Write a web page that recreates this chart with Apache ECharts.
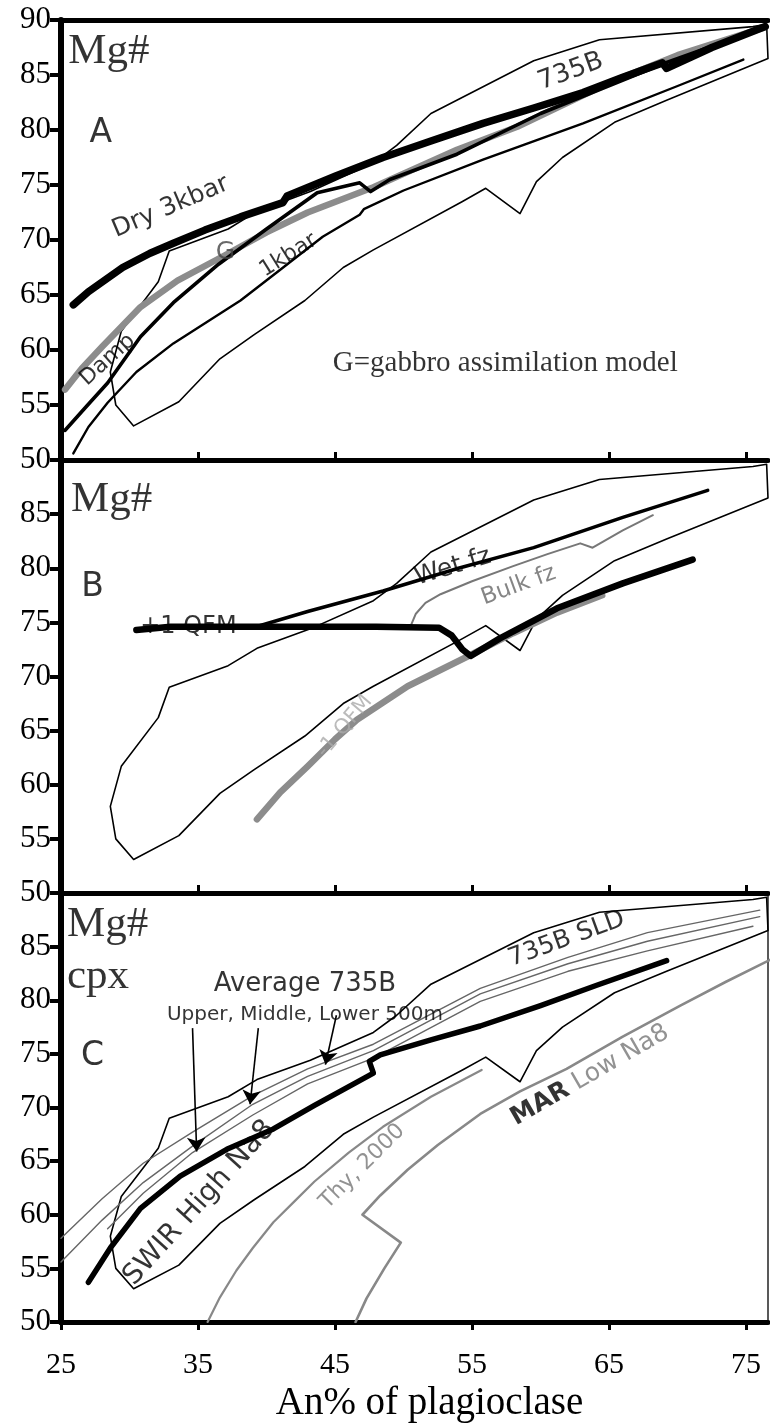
<!DOCTYPE html>
<html><head><meta charset="utf-8">
<script src="https://cdn.jsdelivr.net/npm/echarts@6/dist/echarts.min.js"></script>
<style>html,body{margin:0;padding:0;background:#fff}#c{width:770px;height:1424px}</style>
</head><body><div id="c"></div>
<script>
// ---- tick values ----
const xTickValues = [25, 35, 45, 55, 65, 75];
const yTickValuesA = [50, 55, 60, 65, 70, 75, 80, 85, 90];
const yTickValuesBC = [50, 55, 60, 65, 70, 75, 80, 85];

// ---- 735B field outline (same in all panels), [An, Mg#] ----
const field735B = [[30.3,53.1],[29.0,55.0],[28.6,58.0],[29.4,61.7],[32.1,66.2],[32.9,69.0],[37.2,71.0],[39.3,72.6],[43.2,74.4],[47.8,77.0],[49.5,78.6],[52.0,81.5],[59.5,86.3],[64.3,88.2],[75.5,89.4],[76.5,89.6],[76.6,86.5],[69.2,82.7],[65.4,80.7],[61.6,77.5],[59.7,75.3],[58.5,72.4],[56.0,74.7],[54.3,73.5],[47.8,69.1],[45.6,67.5],[42.8,64.5],[39.1,61.4],[36.6,59.2],[33.6,55.3],[30.3,53.1]];

// ---- Panel A ----
const dry3kbar = [[25.9,64.1],[27.0,65.3],[29.5,67.5],[31.5,68.8],[33.2,69.7],[35.5,70.9],[38.1,72.1],[41.2,73.4],[41.5,74.0],[45,75.8],[48.5,77.5],[52,79.0],[55.8,80.6],[59.5,82.0],[63.1,83.4],[66,84.8],[68.9,86.1],[69.2,85.6],[72.5,87.5],[76.4,89.4]];
const gAssim = [[25.3,56.4],[26.5,58.3],[28.0,60.3],[30.8,63.9],[33.5,66.3],[36.8,68.5],[40.0,70.7],[43.0,72.5],[47.8,74.8],[53.9,78.2],[58.3,80.3],[65.0,84.3],[70,86.8],[76.3,89.3]];
const damp = [[25.3,52.7],[26.8,54.8],[28.4,57.0],[30.8,61.2],[33.2,64.3],[36.5,67.8],[40.0,71.0],[43.7,74.3],[46.8,75.2],[47.6,74.4],[49.0,75.5],[53.9,77.8],[60.0,81.5],[68.9,86.0],[76.3,89.3]];
const kbar1 = [[25.9,50.6],[27.0,53.0],[28.4,55.2],[30.5,58.0],[33.2,60.6],[38.1,64.5],[41.0,67.3],[44.1,70.3],[46.8,72.3],[47.1,72.8],[50.0,74.5],[55.8,77.3],[63.1,80.6],[70.0,84.0],[74.8,86.4]];

// ---- Panel B ----
const wetFz = [[39.0,74.5],[43.0,76.0],[48.5,77.9],[54.0,80.0],[59.5,81.9],[60.2,82.2],[66.0,84.7],[72.2,87.2]];
const bulkFz = [[50.5,74.6],[50.9,75.8],[51.6,76.8],[52.7,77.6],[55.0,78.8],[58.0,80.2],[60.5,81.3],[62.9,82.3],[63.8,81.9],[66.0,83.5],[68.2,84.9]];
const qfmPlus1 = [[30.5,74.3],[33.0,74.6],[40.0,74.6],[48.0,74.6],[52.6,74.5],[53.5,73.8],[54.3,72.5],[54.9,71.9],[57.0,73.5],[61.2,76.3],[66.0,78.6],[71.1,80.8]];
const qfmMinus1 = [[39.3,56.8],[41.0,59.3],[43.0,61.7],[45.0,64.2],[46.6,66.0],[50.3,69.1],[54.6,71.8],[58.0,74.0],[61.2,75.9],[64.5,77.5]];

// ---- Panel C ----
const swirHighNa8 = [[27.0,53.7],[28.6,56.9],[30.8,60.6],[33.7,63.6],[37.1,66.1],[40.5,68.0],[43.5,70.2],[46.8,72.5],[47.8,73.2],[47.5,74.3],[48.3,74.9],[52.0,76.3],[55.6,77.6],[60.0,79.5],[64.1,81.4],[69.2,83.7]];
const avgUpper = [[25.0,57.8],[28.0,61.5],[31.0,64.8],[34.6,67.7],[39.0,71.1],[43.0,73.6],[47.8,75.9],[55.6,81.1],[62.0,84.0],[67.8,86.3],[76.0,88.4]];
const avgMiddle = [[25.0,55.6],[28.0,59.5],[31.0,63.0],[34.6,66.4],[39.0,70.3],[43.0,72.9],[47.8,75.3],[55.6,80.6],[62.0,83.4],[67.8,85.5],[76.0,87.8]];
const avgLower = [[28.4,58.7],[31.0,62.0],[34.6,65.8],[39.0,69.3],[43.0,72.2],[47.8,74.6],[55.6,79.9],[62.0,82.7],[67.8,84.6],[75.5,86.9]];
const thy2000 = [[35.7,50.0],[36.6,52.3],[37.8,54.8],[39.0,56.9],[40.5,59.3],[42.0,61.2],[43.5,63.1],[46.0,65.8],[48.5,68.2],[52.0,71.0],[55.7,73.5]];
const marLowNa8 = [[46.5,50.0],[47.3,52.2],[48.6,55.0],[49.8,57.4],[47.0,60.0],[48.3,61.8],[50.3,64.2],[52.5,66.5],[55.6,69.4],[58.5,71.5],[61.9,73.6],[66.0,76.6],[70.2,79.5],[73.5,81.7],[76.8,83.8]];
const arrowsC = [[[34.6,77.4],[34.9,65.9]], [[39.4,77.4],[38.8,70.3]], [[45.1,78.6],[44.3,74.0]]];

const SERIF = "'Liberation Serif','Times New Roman',serif";
const SANS = "'DejaVu Sans',Verdana,sans-serif";

function line(g, data, color, width, z, extra) {
  return Object.assign({
    type: 'line', xAxisIndex: g, yAxisIndex: g, data: data, showSymbol: false, symbol: 'none',
    silent: true, animation: false, z: z || 2,
    lineStyle: {color: color, width: width, cap: 'round', join: 'round'}
  }, extra || {});
}
function note(g, x, y, text, o) {
  o = o || {};
  return {
    type: 'scatter', xAxisIndex: g, yAxisIndex: g, symbolSize: 1, silent: true, animation: false, z: 20,
    itemStyle: {color: 'rgba(0,0,0,0)'},
    data: [[x, y]],
    label: {
      show: true, position: o.position || 'inside', distance: 0, formatter: text,
      rotate: o.rotate || 0, fontSize: o.size || 22, fontFamily: o.font || SANS,
      color: o.color || '#000', fontWeight: o.weight || 'normal', rich: o.rich
    }
  };
}

const grids = [
  {left: 61, right: 2, top: 20, height: 440},
  {left: 61, right: 2, top: 460, height: 433},
  {left: 61, right: 2, top: 893, height: 434}
];

const xAxes = [0, 1, 2].map(g => ({
  type: 'value', gridIndex: g, min: 25, max: 76.6, interval: 10,
  axisLine: {show: true, onZero: false, lineStyle: {color: '#000', width: 5}},
  axisTick: {show: true, inside: g < 2, length: 8, customValues: xTickValues, lineStyle: {color: '#000', width: 3}},
  axisLabel: {show: g === 2, customValues: xTickValues, margin: 28, fontSize: 30, fontFamily: SERIF, color: '#000'},
  splitLine: {show: false},
  name: g === 2 ? 'An% of plagioclase' : '',
  nameLocation: 'middle', nameGap: 62,
  nameTextStyle: {fontSize: 39, fontFamily: SERIF, color: '#000', padding: [0, 0, 0, 30]}
}));
// top border of panel A
xAxes.push({type: 'value', gridIndex: 0, position: 'top', min: 25, max: 76.6,
  axisLine: {show: true, lineStyle: {color: '#000', width: 5}}, axisTick: {show: false}, axisLabel: {show: false}, splitLine: {show: false}});

const yAxes = [0, 1, 2].map(g => ({
  type: 'value', gridIndex: g, min: 50, max: 90, interval: 5,
  axisLine: {show: true, onZero: false, lineStyle: {color: '#000', width: 6}},
  axisTick: {show: true, inside: false, length: 11, customValues: g === 0 ? yTickValuesA : yTickValuesBC, lineStyle: {color: '#000', width: 4}},
  axisLabel: {show: true, customValues: g === 0 ? yTickValuesA : yTickValuesBC, margin: 10, fontSize: 31, fontFamily: SERIF, color: '#000'},
  splitLine: {show: false}
}));
// right border of panel C
yAxes.push({type: 'value', gridIndex: 2, position: 'right', min: 50, max: 90,
  axisLine: {show: true, lineStyle: {color: '#222', width: 1.5}}, axisTick: {show: false}, axisLabel: {show: false}, splitLine: {show: false}});

const GRAY = '#8c8c8c';
const series = [
  // Panel A
  line(0, field735B, '#000', 1.6, 2),
  line(0, kbar1, '#000', 2.4, 3),
  line(0, gAssim, GRAY, 6.5, 4),
  line(0, damp, '#000', 3.6, 5),
  line(0, dry3kbar, '#000', 7.5, 6),
  note(0, 25.5, 87.1, 'Mg#', {font: SERIF, size: 43, position: 'right'}),
  note(0, 27.9, 79.7, 'A', {size: 33}),
  note(0, 62.2, 85.3, '735B', {size: 26, rotate: 20}),
  note(0, 33.0, 73.0, 'Dry 3kbar', {size: 25, rotate: 23}),
  note(0, 37.0, 68.9, 'G', {size: 25, color: '#444'}),
  note(0, 41.6, 68.6, '1kbar', {size: 22, rotate: 32}),
  note(0, 28.4, 59.1, 'Damp', {size: 22, rotate: 42}),
  note(0, 44.8, 58.8, 'G=gabbro assimilation model', {font: SERIF, size: 29, position: 'right'}),
  // Panel B
  line(1, field735B, '#000', 1.6, 2),
  line(1, bulkFz, '#777', 2, 3),
  line(1, wetFz, '#000', 3.5, 4),
  line(1, qfmMinus1, GRAY, 6.5, 4),
  line(1, qfmPlus1, '#000', 6.5, 5),
  note(1, 25.7, 86.3, 'Mg#', {font: SERIF, size: 43, position: 'right'}),
  note(1, 27.3, 78.2, 'B', {size: 33}),
  note(1, 53.6, 80.1, 'Wet fz', {size: 25, rotate: 17}),
  note(1, 58.4, 78.4, 'Bulk fz', {size: 23, rotate: 20, color: '#666'}),
  note(1, 34.3, 74.6, '+1 QFM', {size: 24}),
  note(1, 45.7, 65.4, '-1 QFM', {size: 21, rotate: 50, color: '#aaa'}),
  // Panel C
  line(2, field735B, '#000', 1.6, 2),
  line(2, thy2000, '#888', 2.2, 3),
  line(2, marLowNa8, '#888', 2.6, 3),
  line(2, avgUpper, '#666', 1.4, 3),
  line(2, avgMiddle, '#666', 1.4, 3),
  line(2, avgLower, '#666', 1.4, 3, {
    markLine: {
      silent: true, animation: false, symbol: ['none', 'arrow'], symbolSize: 14,
      lineStyle: {color: '#000', width: 1.6, type: 'solid'}, label: {show: false},
      data: arrowsC.map(a => [{coord: a[0]}, {coord: a[1]}])
    }
  }),
  line(2, swirHighNa8, '#000', 5.5, 5),
  note(2, 25.4, 87.0, 'Mg#', {font: SERIF, size: 43, position: 'right'}),
  note(2, 25.4, 82.2, 'cpx', {font: SERIF, size: 43, position: 'right'}),
  note(2, 27.3, 74.8, 'C', {size: 33}),
  note(2, 42.8, 81.5, 'Average 735B', {size: 26}),
  note(2, 42.8, 78.6, 'Upper, Middle, Lower 500m', {size: 20}),
  note(2, 61.9, 85.7, '735B SLD', {size: 25, rotate: 20}),
  note(2, 35.1, 61.1, 'SWIR High Na8', {size: 28, rotate: 48}),
  note(2, 47.0, 64.5, 'Thy, 2000', {size: 22, rotate: 45, color: '#777'}),
  note(2, 63.6, 73.0, '{a|MAR} {b|Low Na8}', {size: 24, rotate: 30,
    rich: {a: {fontSize: 25, fontFamily: SANS, color: '#000', fontWeight: 'bold'}, b: {fontSize: 25, fontFamily: SANS, color: '#777'}}})
];

const chart = echarts.init(document.getElementById('c'), null, {renderer: 'canvas'});
chart.setOption({
  animation: false, backgroundColor: '#fff',
  grid: grids, xAxis: xAxes, yAxis: yAxes, series: series
});
</script></body></html>
